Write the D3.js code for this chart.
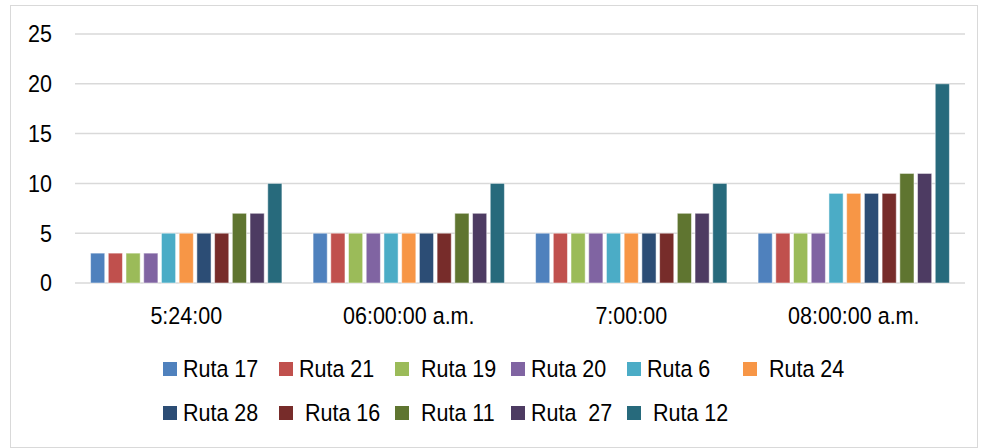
<!DOCTYPE html>
<html><head><meta charset="utf-8">
<script src="https://cdn.jsdelivr.net/npm/d3@7"></script>
<style>body{margin:0;background:#fff}svg{display:block}text{font-family:"Liberation Sans",Arial,sans-serif;fill:#000}</style>
</head><body><svg id="c" width="987" height="448"></svg>
<script>
const categories = ["5:24:00", "06:00:00 a.m.", "7:00:00", "08:00:00 a.m."];
const seriesNames = ["Ruta 17", "Ruta 21", "Ruta 19", "Ruta 20", "Ruta 6", "Ruta 24", "Ruta 28", "Ruta 16", "Ruta 11", "Ruta  27", "Ruta 12"];
const legendLabels = ["Ruta 17", "Ruta 21", " Ruta 19", "Ruta 20", "Ruta 6", " Ruta 24", "Ruta 28", " Ruta 16", " Ruta 11", "Ruta  27", " Ruta 12"];
const colors = ["#4F81BD", "#C0504D", "#9BBB59", "#8064A2", "#4BACC6", "#F79646", "#2C4D75", "#772C2A", "#5F7530", "#4D3B62", "#276A7C"];
const ruta17 = [3, 5, 5, 5];
const ruta21 = [3, 5, 5, 5];
const ruta19 = [3, 5, 5, 5];
const ruta20 = [3, 5, 5, 5];
const ruta6  = [5, 5, 5, 9];
const ruta24 = [5, 5, 5, 9];
const ruta28 = [5, 5, 5, 9];
const ruta16 = [5, 5, 5, 9];
const ruta11 = [7, 7, 7, 11];
const ruta27 = [7, 7, 7, 11];
const ruta12 = [10, 10, 10, 20];
const yTicks = [0, 5, 10, 15, 20, 25];

(function () {
const values = [ruta17, ruta21, ruta19, ruta20, ruta6, ruta24, ruta28, ruta16, ruta11, ruta27, ruta12];
const svg = d3.select("#c");
const FS = 21.5, STRETCH = "scale(1,1.1)";

svg.append("rect").attr("x", 10.5).attr("y", 5.5).attr("width", 967).attr("height", 442)
  .attr("fill", "#fff").attr("stroke", "#d9d9d9").attr("stroke-width", 1);

const pL = 75, pR = 965, pT = 34, pB = 283;
const y = d3.scaleLinear().domain([0, 25]).range([pB, pT]);
const x0 = d3.scaleBand().domain(categories).range([pL, pR]).padding(0);
const bw = x0.bandwidth();
const x1 = d3.scaleBand().domain(seriesNames).range([bw * 0.07, bw * 0.93]).paddingInner(0.2).paddingOuter(0);

// gridlines
svg.append("g").selectAll("line").data(yTicks).join("line")
  .attr("x1", pL).attr("x2", pR)
  .attr("y1", d => y(d)).attr("y2", d => y(d))
  .attr("stroke", "#d9d9d9").attr("stroke-width", 1.5);

// y axis labels
const yAxis = d3.axisLeft(y).tickValues(yTicks).tickSize(0).tickPadding(0);
const gy = svg.append("g").attr("transform", `translate(52,0)`).call(yAxis);
gy.select(".domain").remove();
gy.selectAll("text").attr("font-size", FS).attr("font-family", "Liberation Sans, Arial, sans-serif")
  .attr("fill", "#000").attr("dy", "0.33em").attr("transform", STRETCH);

// bars
const groups = svg.append("g").selectAll("g").data(categories).join("g")
  .attr("transform", d => `translate(${x0(d)},0)`);
groups.selectAll("rect").data((c, ci) => seriesNames.map((s, si) => ({s, si, v: values[si][ci]})))
  .join("rect")
  .attr("x", d => x1(d.s)).attr("width", x1.bandwidth())
  .attr("y", d => y(d.v)).attr("height", d => y(0) - y(d.v))
  .attr("fill", d => colors[d.si])
  .attr("stroke", "#ffffff").attr("stroke-opacity", 0.5).attr("stroke-width", 1);

// x axis labels
const xAxis = d3.axisBottom(x0).tickSize(0).tickPadding(0);
const gx = svg.append("g").attr("transform", `translate(0,${pB + 24})`).call(xAxis);
gx.select(".domain").remove();
gx.selectAll("text").attr("font-size", FS).attr("font-family", "Liberation Sans, Arial, sans-serif")
  .attr("fill", "#000").attr("dy", "0.71em").attr("transform", STRETCH);

// legend
const legX = d3.scalePoint().domain(d3.range(6)).range([163, 743]);
const legY = d3.scalePoint().domain([0, 1]).range([369, 413]);
const leg = svg.append("g").selectAll("g").data(seriesNames).join("g")
  .attr("transform", (d, i) => `translate(${legX(i % 6)},${legY(Math.floor(i / 6))})`);
leg.append("rect").attr("x", 0).attr("y", -7).attr("width", 14).attr("height", 14)
  .attr("fill", (d, i) => colors[i]);
leg.append("text").attr("x", 20).attr("y", 0).attr("dy", "0.33em")
  .attr("font-size", FS).attr("transform", STRETCH).style("white-space", "pre")
  .text((d, i) => legendLabels[i]);
})();
</script></body></html>
